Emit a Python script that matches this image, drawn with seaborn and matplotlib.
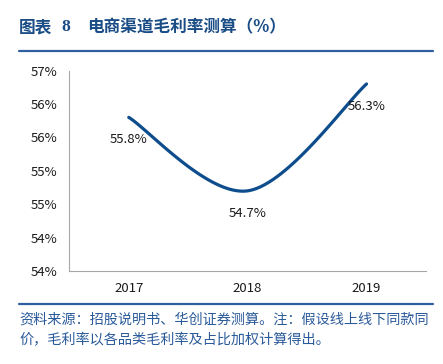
import numpy as np
import pandas as pd
import matplotlib
matplotlib.use("Agg")
import matplotlib.pyplot as plt
import seaborn as sns

# data
years = ["2017", "2018", "2019"]
margin = [55.8, 54.7, 56.3]
point_labels = ["55.8%", "54.7%", "56.3%"]
y_ticks = [53.5, 54.0, 54.5, 55.0, 55.5, 56.0, 56.5]
y_tick_labels = ["54%", "54%", "55%", "55%", "56%", "56%", "57%"]

title_head = "图表"
title_num = "8"
title_body = "电商渠道毛利率测算（%）"
note_1 = "资料来源：招股说明书、华创证券测算。注：假设线上线下同款同"
note_2 = "价，毛利率以各品类毛利率及占比加权计算得出。"

sns.set_style("white")
plt.rcParams["font.family"] = ["Noto Sans CJK SC", "DejaVu Sans"]

line_color = "#0E4D8C"
blue_dark = "#1A4C85"
grey = "#A6A6A6"


def smooth_curve(xs, ys, n=60):
    """Excel-like smoothed line: cubic bezier with catmull-rom control points"""
    px = np.r_[xs[0], xs, xs[-1]].astype(float)
    py = np.r_[ys[0], ys, ys[-1]].astype(float)
    out_x, out_y = [], []
    t = np.linspace(0, 1, n)
    for i in range(1, len(px) - 2):
        p0 = np.array([px[i], py[i]])
        p3 = np.array([px[i + 1], py[i + 1]])
        c1 = p0 + (np.array([px[i + 1], py[i + 1]]) - np.array([px[i - 1], py[i - 1]])) / 6
        c2 = p3 - (np.array([px[i + 2], py[i + 2]]) - np.array([px[i], py[i]])) / 6
        b = ((1 - t) ** 3)[:, None] * p0 + (3 * (1 - t) ** 2 * t)[:, None] * c1 \
            + (3 * (1 - t) * t ** 2)[:, None] * c2 + (t ** 3)[:, None] * p3
        out_x.extend(b[:, 0])
        out_y.extend(b[:, 1])
    return np.array(out_x), np.array(out_y)


xpos = np.arange(len(years))
sx, sy = smooth_curve(xpos, margin)
curve = pd.DataFrame({"x": sx, "y": sy})

fig = plt.figure(figsize=(4.43, 3.64), dpi=100)
ax = fig.add_axes([0.1565, 0.2555, 0.805, 0.5505])

sns.lineplot(data=curve, x="x", y="y", sort=False, color=line_color, lw=2.3,
             ax=ax, legend=False)

for i, v in enumerate(margin):
    ax.annotate(point_labels[i], (xpos[i], v), xytext=(0, -16), textcoords="offset points",
                ha="center", va="center", fontsize=9.5, color="#1a1a1a")

ax.set_xlim(-0.5, len(years) - 0.5)
ax.set_ylim(y_ticks[0], y_ticks[-1])
ax.set_yticks(y_ticks)
ax.set_yticklabels(y_tick_labels, fontsize=9.5, color="#1a1a1a")
ax.set_xticks(xpos)
ax.set_xticklabels(years, fontsize=9.5, color="#1a1a1a")
ax.set_xticks(np.arange(-0.5, len(years)), minor=True)
ax.tick_params(axis="x", which="major", length=0, pad=8)
ax.tick_params(axis="x", which="minor", length=3.5, color=grey, width=0.8)
ax.tick_params(axis="y", length=3.5, color=grey, width=0.8, pad=5)
ax.set_xlabel("")
ax.set_ylabel("")
for side in ["top", "right"]:
    ax.spines[side].set_visible(False)
for side in ["left", "bottom"]:
    ax.spines[side].set_color(grey)
    ax.spines[side].set_linewidth(0.8)

# header and footer
ty = 1 - 27 / 364
fig.text(19 / 443, ty, title_head, fontsize=12, fontweight="bold",
         color=blue_dark, va="center", ha="left")
fig.text(61 / 443, ty, title_num, fontsize=12.5, fontweight="bold", family=["Liberation Serif"],
         color=blue_dark, va="center", ha="left")
fig.text(87 / 443, ty, title_body, fontsize=12, fontweight="bold",
         color=blue_dark, va="center", ha="left")
fig.add_artist(plt.Line2D([19 / 443, 433 / 443], [1 - 51 / 364] * 2, color="#2F5F9E", lw=1.6))
fig.add_artist(plt.Line2D([19 / 443, 433 / 443], [1 - 303.5 / 364] * 2, color="#2F5F9E", lw=1.6))
fig.text(19 / 443, 1 - 320 / 364, note_1, fontsize=10.2, color="#2A5A9A", va="center", ha="left",
         style="italic")
fig.text(19 / 443, 1 - 340 / 364, note_2, fontsize=10.2, color="#2A5A9A", va="center", ha="left",
         style="italic")

fig.savefig("out.png", dpi=100, facecolor="white")
